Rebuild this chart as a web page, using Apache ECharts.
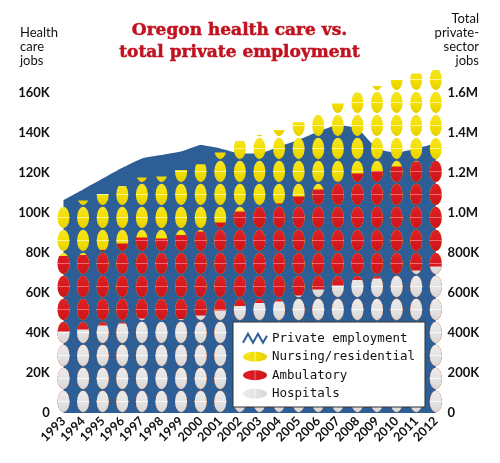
<!DOCTYPE html>
<html>
<head>
<meta charset="utf-8">
<script src="https://cdn.jsdelivr.net/npm/echarts@6/dist/echarts.min.js"></script>
<style>
html,body{margin:0;padding:0;background:#fff;}
#chart{width:500px;height:463px;}
</style>
</head>
<body>
<div id="chart"></div>
<script>
// ---- data ----
const years = ['1993','1994','1995','1996','1997','1998','1999','2000','2001','2002','2003','2004','2005','2006','2007','2008','2009','2010','2011','2012'];
const hospitals  = [40700, 41800, 43700, 44700, 47300, 46200, 47000, 48700, 51200, 53500, 55000, 55700, 58800, 61800, 63700, 66500, 67200, 69000, 71200, 73200];
const ambulatory = [37800, 37200, 37800, 40100, 40500, 41100, 42000, 42000, 44000, 47200, 48000, 49100, 49400, 50000, 51900, 53300, 53800, 54200, 54500, 53600];
const nursing    = [24700, 27200, 28000, 28700, 29900, 30900, 32500, 33700, 35000, 35300, 36000, 36700, 37200, 38000, 39100, 40500, 42500, 43300, 44100, 44700];
const privateEmployment = [1065000, 1118000, 1172000, 1226000, 1273000, 1290000, 1307000, 1340000, 1323000, 1298000, 1298000, 1333000, 1365000, 1407000, 1440000, 1423000, 1323000, 1302000, 1323000, 1348000];
const leftTicks = ['0','20K','40K','60K','80K','100K','120K','140K','160K'];
const rightTicks = ['0','200K','400K','600K','800K','1.0M','1.2M','1.4M','1.6M'];

// cumulative tops used for overlapping clipped pill columns
const redTop = hospitals.map((v, i) => v + ambulatory[i]);
const yellowTop = redTop.map((v, i) => v + nursing[i]);

function vGrad(c0, c, hi, c2) {
  return {type:'linear', x:0, y:0, x2:0, y2:1, colorStops:[
    {offset:0, color:c0},{offset:0.46, color:c},{offset:0.5, color:hi},{offset:0.54, color:c},{offset:1, color:c2}]};
}
function hGrad(c0, c, hi, c2) {
  return {type:'linear', x:0, y:0, x2:1, y2:0, colorStops:[
    {offset:0, color:c0},{offset:0.46, color:c},{offset:0.5, color:hi},{offset:0.54, color:c},{offset:1, color:c2}]};
}
const YEL = ['#f5e42a', '#f3e000', '#fbf3a0', '#e6cf00'];
const RED = ['#dc2228', '#d8191f', '#ee6a6e', '#c8161c'];
const GRY = ['#ebebeb', '#e4e4e4', '#f8f8f8', '#d6d6d6'];
const BLUE = '#2d5e96';
const ELLIPSE = 'path://M0,5A12,5 0 1,0 24,5A12,5 0 1,0 0,5Z';

function pill(name, data, cols, z) {
  return {
    type: 'pictorialBar', name: name, data: data,
    symbol: 'circle', symbolSize: [12, 21.5],
    symbolRepeat: true, symbolMargin: '0.75!', symbolClip: true,
    symbolBoundingData: 172500, symbolPosition: 'start',
    barGap: '-100%', barWidth: 12,
    itemStyle: {color: vGrad(cols[0], cols[1], cols[2], cols[3])},
    z: z, silent: true, animation: false
  };
}

const chart = echarts.init(document.getElementById('chart'), null, {renderer: 'canvas'});
const lab = {fontFamily: 'Lato', fontWeight: 'bold', fontSize: 13, color: '#111'};
chart.setOption({
  animation: false,
  grid: {left: 53.7, right: 54.4, top: 53, bottom: 50, containLabel: false},
  xAxis: {
    type: 'category', data: years, boundaryGap: true,
    axisLine: {show: false}, axisTick: {show: false}, splitLine: {show: false},
    axisLabel: {rotate: 45, margin: 6, fontFamily: 'Lato', fontWeight: 'bold', fontSize: 12.5, color: '#111', interval: 0}
  },
  yAxis: [
    {type: 'value', min: 0, max: 180000, interval: 20000, position: 'left',
     axisLine: {show: false}, axisTick: {show: false}, splitLine: {show: false},
     axisLabel: Object.assign({margin: 4, formatter: v => leftTicks[Math.round(v / 20000)] || ''}, lab)},
    {type: 'value', min: 0, max: 1800000, interval: 200000, position: 'right',
     axisLine: {show: false}, axisTick: {show: false}, splitLine: {show: false},
     axisLabel: Object.assign({margin: 2, formatter: v => rightTicks[Math.round(v / 200000)] || ''}, lab)}
  ],
  legend: {
    orient: 'vertical', left: 233, top: 322, selectedMode: false, z: 20,
    backgroundColor: '#fff', borderColor: '#333', borderWidth: 1,
    padding: [9, 10, 6, 9], itemWidth: 24, itemHeight: 11, itemGap: 4,
    textStyle: {fontFamily: 'DejaVu Sans Mono', fontSize: 12.5, color: '#111', lineHeight: 14.5},
    data: [
      {name: 'Private employment', icon: 'path://M0,10L5,1L10,10L15,1L20,10L24,3',
       itemStyle: {color: 'rgba(0,0,0,0)', borderColor: BLUE, borderWidth: 2}},
      {name: 'Nursing/residential', icon: ELLIPSE, itemStyle: {color: hGrad(YEL[0], YEL[1], YEL[2], YEL[3])}},
      {name: 'Ambulatory', icon: ELLIPSE, itemStyle: {color: hGrad(RED[0], RED[1], RED[2], RED[3])}},
      {name: 'Hospitals', icon: ELLIPSE, itemStyle: {color: hGrad(GRY[0], GRY[1], GRY[2], GRY[3])}}
    ]
  },
  graphic: [
    {type: 'text', x: 239.5, y: 31, style: {text: 'Oregon health care vs.', font: 'bold 17px "DejaVu Serif"', fill: '#c1121f', stroke: '#c1121f', lineWidth: 0.5, align: 'center', verticalAlign: 'middle'}},
    {type: 'text', x: 239.5, y: 53, style: {text: 'total private employment', font: 'bold 17px "DejaVu Serif"', fill: '#c1121f', stroke: '#c1121f', lineWidth: 0.5, align: 'center', verticalAlign: 'middle'}},
    {type: 'text', x: 20, y: 33.3, style: {text: 'Health', font: '13px Lato', fill: '#111', align: 'left', verticalAlign: 'middle'}},
    {type: 'text', x: 20, y: 47, style: {text: 'care', font: '13px Lato', fill: '#111', align: 'left', verticalAlign: 'middle'}},
    {type: 'text', x: 20, y: 60.8, style: {text: 'jobs', font: '13px Lato', fill: '#111', align: 'left', verticalAlign: 'middle'}},
    {type: 'text', x: 479, y: 18.8, style: {text: 'Total', font: '13px Lato', fill: '#111', align: 'right', verticalAlign: 'middle'}},
    {type: 'text', x: 479, y: 33.3, style: {text: 'private-', font: '13px Lato', fill: '#111', align: 'right', verticalAlign: 'middle'}},
    {type: 'text', x: 479, y: 47, style: {text: 'sector', font: '13px Lato', fill: '#111', align: 'right', verticalAlign: 'middle'}},
    {type: 'text', x: 479, y: 60.8, style: {text: 'jobs', font: '13px Lato', fill: '#111', align: 'right', verticalAlign: 'middle'}}
  ],
  series: [
    {type: 'line', name: 'Private employment', yAxisIndex: 1, data: privateEmployment,
     showSymbol: false, smooth: 0.15, lineStyle: {width: 0, color: BLUE}, itemStyle: {color: BLUE},
     areaStyle: {color: BLUE, opacity: 1}, z: 1, silent: true},
    pill('Nursing/residential', yellowTop, YEL, 3),
    pill('Ambulatory', redTop, RED, 4),
    pill('Hospitals', hospitals, GRY, 5)
  ]
});
</script>
</body>
</html>
